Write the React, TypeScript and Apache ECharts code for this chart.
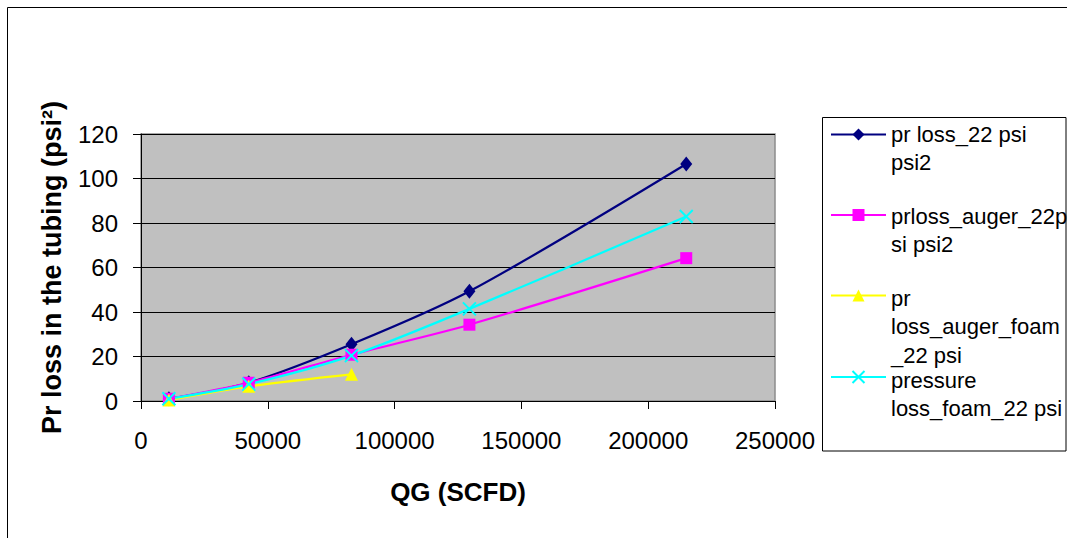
import React, { useEffect, useRef } from 'react';
import * as echarts from 'echarts';

// Gas rate (SCFD) at each measured point
const qg = [11000, 42500, 83000, 129500, 215000];
const qgAugerFoam = [11000, 42500, 83000];

// Pressure loss in the tubing (psi²) per configuration
const prLoss = [1.0, 8.2, 25.5, 49.3, 106.5];
const prLossAuger = [1.0, 8.2, 20.8, 34.3, 64.2];
const prLossAugerFoam = [0.5, 6.6, 12.0];
const prLossFoam = [1.0, 7.6, 20.4, 41.4, 82.9];

const seriesNames = [
  'pr loss_22 psi psi2',
  'prloss_auger_22psi psi2',
  'pr loss_auger_foam_22 psi',
  'pressure loss_foam_22 psi',
];
// Legend captions as they wrap inside the legend box
const legendLines = [
  ['pr loss_22 psi', 'psi2'],
  ['prloss_auger_22p', 'si psi2'],
  ['pr', 'loss_auger_foam', '_22 psi'],
  ['pressure', 'loss_foam_22 psi'],
];
const seriesColors = ['#000080', '#FF00FF', '#FFFF00', '#00FFFF'];

const xMin = 0;
const xMax = 250000;
const xStep = 50000;
const yMin = 0;
const yMax = 120;
const yStep = 20;

const FONT = '"Liberation Sans", Arial, Helvetica, sans-serif';

const pairs = (xs: number[], ys: number[]) => xs.map((x, i) => [x, ys[i]]);

export default function App() {
  const ref = useRef<HTMLDivElement>(null);

  useEffect(() => {
    if (!ref.current) return;
    const chart = echarts.init(ref.current, undefined, { renderer: 'svg' });

    const legendTop = 127;
    const legendStep = 82;
    const lineStep = 28.4;
    const textX = 891;

    const legendTexts: any[] = [];
    legendLines.forEach((lines, i) => {
      lines.forEach((t, j) => {
        legendTexts.push({
          type: 'text',
          x: textX,
          y: legendTop + 7.5 + i * legendStep + j * lineStep,
          style: {
            text: t,
            fill: '#000',
            font: `22px ${FONT}`,
            verticalAlign: 'middle',
            align: 'left',
          },
        });
      });
    });

    const common = {
      type: 'line',
      smooth: 0.3,
      symbolSize: 12,
      showSymbol: true,
    };

    chart.setOption({
      animation: false,
      backgroundColor: '#fff',
      textStyle: { fontFamily: FONT },
      grid: {
        show: true,
        left: 141,
        top: 134,
        width: 634,
        height: 267,
        backgroundColor: '#C0C0C0',
        borderColor: '#8c8c8c',
        borderWidth: 1.5,
      },
      xAxis: {
        type: 'value',
        min: xMin,
        max: xMax,
        interval: xStep,
        name: 'QG (SCFD)',
        nameLocation: 'middle',
        nameGap: 78,
        nameTextStyle: { fontSize: 26, fontWeight: 'bold', color: '#000', fontFamily: FONT },
        axisLine: { show: true, lineStyle: { color: '#000', width: 1 } },
        axisTick: { show: true, length: 8, lineStyle: { color: '#000' } },
        axisLabel: {
          fontSize: 24,
          color: '#000',
          margin: 27,
          fontFamily: FONT,
          formatter: (v: number) => String(v),
        },
        splitLine: { show: false },
      },
      yAxis: {
        type: 'value',
        min: yMin,
        max: yMax,
        interval: yStep,
        name: 'Pr loss in the tubing (psi²)',
        nameLocation: 'middle',
        nameGap: 76,
        nameTextStyle: { fontSize: 27, fontWeight: 'bold', color: '#000', fontFamily: FONT },
        axisLine: { show: true, lineStyle: { color: '#000', width: 1 } },
        axisTick: { show: true, length: 8, lineStyle: { color: '#000' } },
        axisLabel: {
          fontSize: 24,
          color: '#000',
          margin: 23,
          fontFamily: FONT,
          formatter: (v: number) => String(v),
        },
        splitLine: { show: true, lineStyle: { color: '#000', width: 1 } },
      },
      legend: {
        orient: 'vertical',
        left: 830,
        top: legendTop,
        padding: 0,
        itemWidth: 55,
        itemHeight: 15,
        itemGap: legendStep - 15,
        data: seriesNames,
        formatter: () => '',
        selectedMode: false,
      },
      graphic: [
        {
          type: 'rect',
          shape: { x: 7.5, y: 7.5, width: 1100, height: 600 },
          style: { fill: 'none', stroke: '#000', lineWidth: 1 },
          silent: true,
        },
        {
          type: 'rect',
          shape: { x: 822.5, y: 117.5, width: 243.5, height: 333.5 },
          style: { fill: 'none', stroke: '#000', lineWidth: 1 },
          silent: true,
        },
        ...legendTexts,
      ],
      series: [
        {
          ...common,
          name: seriesNames[0],
          symbol: 'diamond',
          symbolSize: [12, 15],
          color: seriesColors[0],
          itemStyle: { color: seriesColors[0] },
          lineStyle: { width: 2.2, color: seriesColors[0] },
          data: pairs(qg, prLoss),
        },
        {
          ...common,
          name: seriesNames[1],
          symbol: 'rect',
          symbolSize: 12,
          color: seriesColors[1],
          itemStyle: { color: seriesColors[1] },
          lineStyle: { width: 2.2, color: seriesColors[1] },
          data: pairs(qg, prLossAuger),
        },
        {
          ...common,
          name: seriesNames[2],
          symbol: 'triangle',
          symbolSize: 13,
          color: seriesColors[2],
          itemStyle: { color: seriesColors[2] },
          lineStyle: { width: 2.2, color: seriesColors[2] },
          data: pairs(qgAugerFoam, prLossAugerFoam),
        },
        {
          ...common,
          name: seriesNames[3],
          symbol: 'path://M0,0L10,10M0,10L10,0',
          symbolSize: 13,
          color: seriesColors[3],
          itemStyle: { color: 'none', borderColor: seriesColors[3], borderWidth: 2 },
          lineStyle: { width: 2.2, color: seriesColors[3] },
          data: pairs(qg, prLossFoam),
        },
      ],
    });

    return () => chart.dispose();
  }, []);

  return (
    <div
      ref={ref}
      style={{ position: 'fixed', left: 0, top: 0, width: 1067, height: 538, background: '#fff' }}
    />
  );
}
